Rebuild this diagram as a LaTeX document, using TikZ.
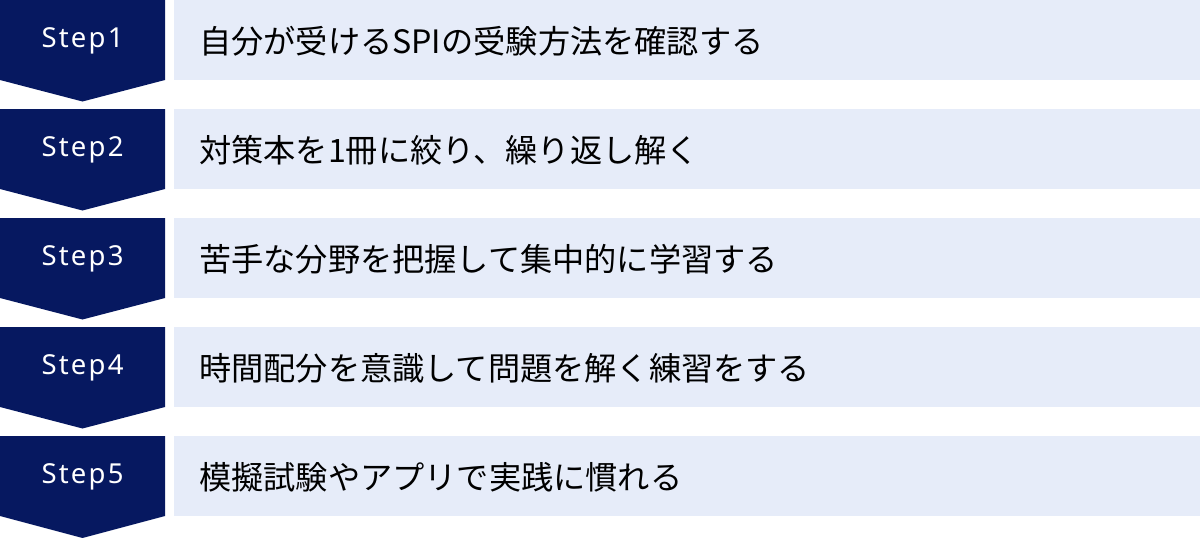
\documentclass[tikz,border=0pt]{standalone}
\usepackage{fontspec}
\setmainfont{Noto Sans CJK JP}
\newfontfamily\stepfont[LetterSpace=8]{Noto Sans}
\definecolor{navy}{RGB}{6,24,96}
\definecolor{paleblue}{RGB}{230,236,249}
\tikzset{
    badge/.style={fill=navy, draw=none},
    steplabel/.style={text=white, font=\stepfont\fontsize{27.5}{30}\selectfont, inner sep=0pt},
    taskbox/.style={fill=paleblue, draw=none},
    tasklabel/.style={text=black, anchor=west, font=\fontsize{32.2}{36}\selectfont, inner sep=0pt}
}
\begin{document}
\begin{tikzpicture}[x=1pt, y=1pt]
                \useasboundingbox (0, 0) rectangle (1200, -538);
                % Step 1
                \fill[badge] (0, 0) -- (165, 0) -- (165, -80) -- (82.5, -101.5) -- (0, -80) -- cycle;
                \fill[taskbox] (174, 0) rectangle (1200, -80);
                \node[steplabel] (s1) at (82.5, -41) {Step1};
                \node[tasklabel] (t1) at (199, -41.5) {自分が受けるSPIの受験方法を確認する};
                % Step 2
                \fill[badge] (0, -109) -- (165, -109) -- (165, -189) -- (82.5, -210.5) -- (0, -189) -- cycle;
                \fill[taskbox] (174, -109) rectangle (1200, -189);
                \node[steplabel] (s2) at (82.5, -150) {Step2};
                \node[tasklabel] (t2) at (199, -150.5) {対策本を1冊に絞り、繰り返し解く};
                % Step 3
                \fill[badge] (0, -218) -- (165, -218) -- (165, -298) -- (82.5, -319.5) -- (0, -298) -- cycle;
                \fill[taskbox] (174, -218) rectangle (1200, -298);
                \node[steplabel] (s3) at (82.5, -259) {Step3};
                \node[tasklabel] (t3) at (199, -259.5) {苦手な分野を把握して集中的に学習する};
                % Step 4
                \fill[badge] (0, -327) -- (165, -327) -- (165, -407) -- (82.5, -428.5) -- (0, -407) -- cycle;
                \fill[taskbox] (174, -327) rectangle (1200, -407);
                \node[steplabel] (s4) at (82.5, -368) {Step4};
                \node[tasklabel] (t4) at (199, -368.5) {時間配分を意識して問題を解く練習をする};
                % Step 5
                \fill[badge] (0, -436) -- (165, -436) -- (165, -516) -- (82.5, -538) -- (0, -516) -- cycle;
                \fill[taskbox] (174, -436) rectangle (1200, -516);
                \node[steplabel] (s5) at (82.5, -477) {Step5};
                \node[tasklabel] (t5) at (199, -477.5) {模擬試験やアプリで実践に慣れる};
            \end{tikzpicture}
\end{document}
